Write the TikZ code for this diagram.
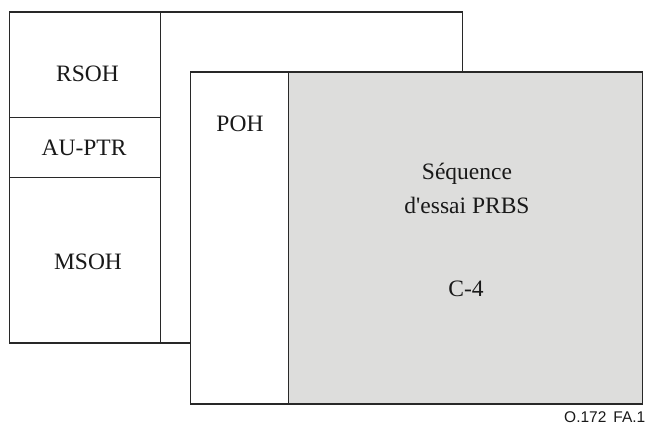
\documentclass[tikz,border=0pt]{standalone}
\usepackage{fontspec}
\setmainfont{Liberation Serif}
\newfontfamily\labelfont{Liberation Sans}
\definecolor{frameline}{RGB}{40,40,40}
\definecolor{payload}{RGB}{221,221,220}
\definecolor{inktext}{RGB}{25,25,25}
\begin{document}
\begin{tikzpicture}[x=1pt,y=-1pt,
  frame/.style={draw=frameline,line width=1.1pt},
  lbl/.style={font=\fontsize{23.5}{28}\selectfont,text=inktext,inner sep=0pt,anchor=base}]
\useasboundingbox (0,0) rectangle (645,425);
% STM-N frame: section overhead column and pointer
\draw[frame,fill=white] (9.5,12) rectangle (462.5,343);
\draw[frame] (160.5,12) -- (160.5,343);
\draw[frame] (9.5,117.5) -- (160.5,117.5);
\draw[frame] (9.5,177.5) -- (160.5,177.5);
\node[lbl] (rsoh) at (87.5,82) {RSOH};
\node[lbl] (auptr) at (84,156) {AU-PTR};
\node[lbl] (msoh) at (88,269) {MSOH};
% VC-4: path overhead and C-4 payload
\draw[frame,fill=white] (190.5,72) rectangle (642.5,404);
\draw[frame,fill=payload] (288.5,72) rectangle (642.5,404);
\node[lbl] (poh) at (240,131.5) {POH};
\node[lbl] (seq) at (467,179) {Séquence};
\node[lbl] (prbs) at (467,213) {d\textquotesingle essai PRBS};
\node[lbl] (c4) at (466,296) {C-4};
\node[font=\labelfont\fontsize{15.5}{17}\selectfont,text=inktext,inner sep=0pt,anchor=base east] (fig) at (645.5,422) {O.172\hspace{0.45em}FA.1};
\end{tikzpicture}
\end{document}
